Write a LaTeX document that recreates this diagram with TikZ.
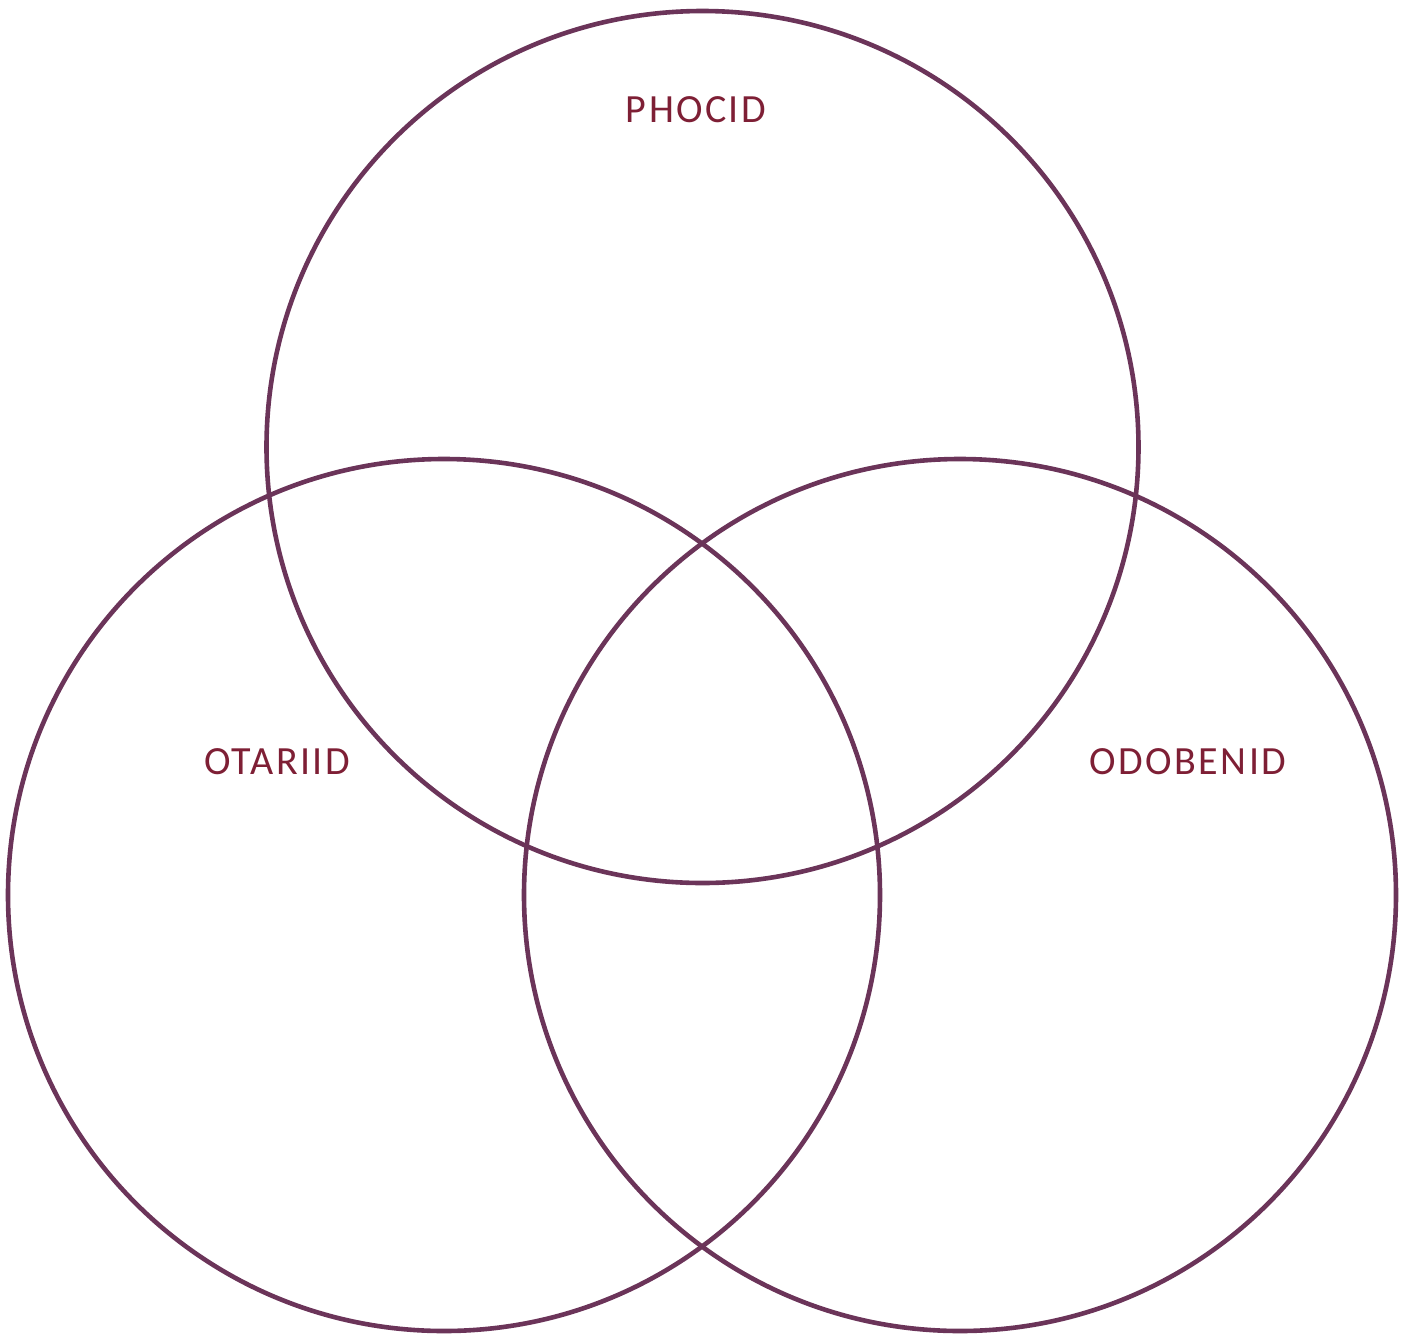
\documentclass[tikz,border=0pt]{standalone}
\usepackage{fontspec}
\setmainfont{Carlito}
\newfontfamily\lblfont[LetterSpace=6]{Carlito}
\definecolor{ringcol}{HTML}{6B3459}
\definecolor{textcol}{HTML}{7E1F35}
\begin{document}
\begin{tikzpicture}[x=0.5pt,y=-0.5pt,
  ring/.style={draw=ringcol,line width=2.3pt},
  lbl/.style={text=textcol,font=\lblfont\fontsize{20}{24}\selectfont,inner sep=0pt}]
\useasboundingbox (0,0) rectangle (1404,1334);
\draw[ring] (702.5,447) circle[radius=218pt];
\draw[ring] (444,895) circle[radius=218pt];
\draw[ring] (960,895) circle[radius=218pt];
\node[lbl] (phocid) at (696,110) {PHOCID};
\node[lbl] (otariid) at (277,762) {OTARIID};
\node[lbl] (odobenid) at (1188,762) {ODOBENID};
\end{tikzpicture}
\end{document}
